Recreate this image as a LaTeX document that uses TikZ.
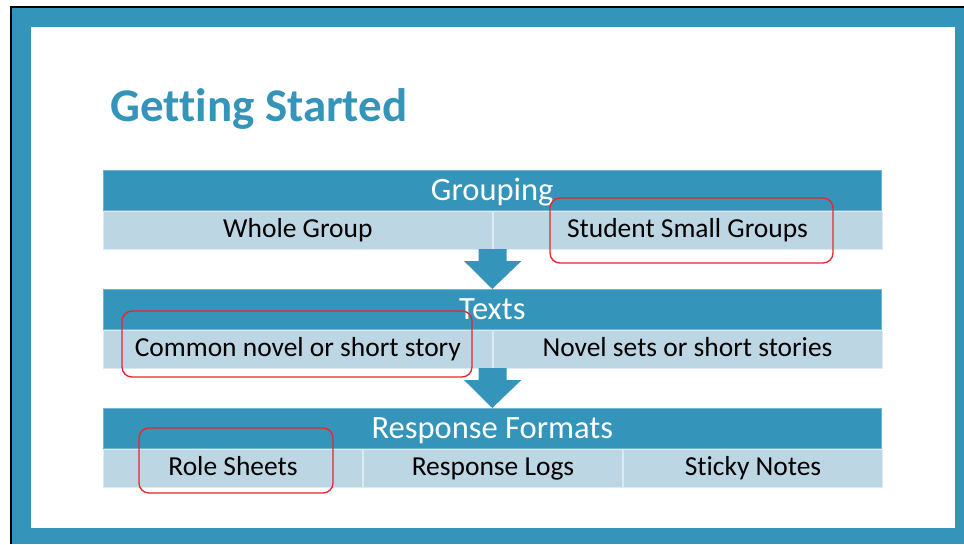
\documentclass[tikz,border=0pt]{standalone}
\usepackage{fontspec}
\setmainfont{Carlito}[Ligatures=NoCommon]
\usetikzlibrary{calc}
\definecolor{frameblue}{HTML}{3494BA}
\definecolor{cellblue}{HTML}{BDD6E4}
\definecolor{hiRed}{HTML}{E8262C}
\begin{document}
\begin{tikzpicture}[x=0.75pt,y=-0.75pt,
 hdr/.style={fill=frameblue, draw=frameblue!70!white, line width=0.4pt, text=white,
   font=\fontsize{24.4}{28}\selectfont, minimum width=583.5pt, minimum height=30pt,
   inner sep=0pt, text height=22.5pt, text depth=7.5pt, anchor=north west},
 cell/.style={fill=cellblue, draw=cellblue!50!white, line width=0.5pt, text=black,
   font=\fontsize{20.6}{24}\selectfont, minimum height=28.5pt, inner sep=0pt,
   text height=19.875pt, text depth=8.625pt, anchor=north west},
 cell2/.style={cell, minimum width=291.75pt},
 cell3/.style={cell, minimum width=194.5pt},
 flow/.style={fill=frameblue},
 hilite/.style={draw=hiRed, line width=1pt, rounded corners=7.5pt}
]
\useasboundingbox (0,0) rectangle (964,544);
\fill[white] (0,0) rectangle (964,544);
\fill[black] (10,6) rectangle (964,544);
\fill[frameblue] (12,7.5) rectangle (964,544);
\fill[white] (30.5,27) rectangle (955.3,527.7);

\node[anchor=base west, text=frameblue, font=\fontsize{35.2}{40}\selectfont\bfseries, inner sep=0pt] (title) at (110,121) {Getting Started};

% row 1
\node[hdr] (hd1) at (103,170) {Grouping};
\node[cell2] (c11) at (hd1.south west) {Whole Group};
\node[cell2] (c12) at (c11.north east) {Student Small Groups};

% row 2
\node[hdr] (hd2) at (103,289) {Texts};
\node[cell2] (c21) at (hd2.south west) {Common novel or short story};
\node[cell2] (c22) at (c21.north east) {Novel sets or short stories};

% row 3
\node[hdr] (hd3) at (103,408) {Response Formats};
\node[cell3] (c31) at (hd3.south west) {Role Sheets};
\node[cell3] (c32) at (c31.north east) {Response Logs};
\node[cell3] (c33) at (c32.north east) {Sticky Notes};

% arrows
\fill[flow] ($(c11.south east)+(-14,0)$) -- ($(c11.south east)+(14,0)$) -- ($(c11.south east)+(14,12)$)
  -- ($(c11.south east)+(28.5,12)$) -- (hd2.north) -- ($(c11.south east)+(-28.5,12)$)
  -- ($(c11.south east)+(-14,12)$) -- cycle;
\fill[flow] ($(c21.south east)+(-14,0)$) -- ($(c21.south east)+(14,0)$) -- ($(c21.south east)+(14,12)$)
  -- ($(c21.south east)+(28.5,12)$) -- (hd3.north) -- ($(c21.south east)+(-28.5,12)$)
  -- ($(c21.south east)+(-14,12)$) -- cycle;

% highlights
\draw[hilite] (550,198) rectangle (833,263);
\draw[hilite] (122,311) rectangle (472,377);
\draw[hilite] (139,428) rectangle (333,493);
\end{tikzpicture}
\end{document}
